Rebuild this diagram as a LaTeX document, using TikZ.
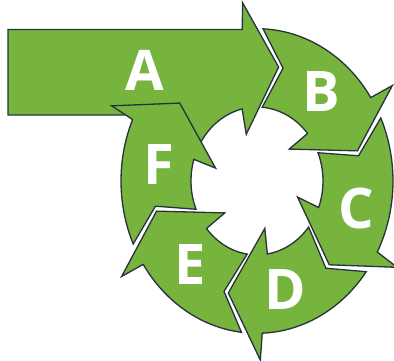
\documentclass[tikz,border=0pt]{standalone}
\usepackage{fontspec}
\setmainfont{Open Sans}
\definecolor{arrgreen}{RGB}{118,180,62}
\definecolor{arredge}{RGB}{38,50,60}
\newcommand{\gapang}{2.5}
% #1 = tip angle of previous arrow, #2 = tip angle of this arrow
\newcommand{\ringarrow}[2]{%
  \path[arrowshape] ({#1+11.95-\gapang}:136)
    arc[start angle={#1+11.95-\gapang}, end angle={#2+18.2}, radius=136]
    -- ({#2+17.2}:160) -- ({#2}:104) -- ({#2+26.5}:43) -- ({#2+25}:66)
    arc[start angle={#2+25}, end angle={#1+9.97-\gapang}, radius=66]
    -- ({#1-\gapang}:104) -- cycle;}
\begin{document}
\begin{tikzpicture}[x=1pt,y=1pt,
  arrowshape/.style={fill=arrgreen, draw=arredge, line width=1.3pt, line join=miter},
  lbl/.style={text=white, font=\fontsize{56}{60}\selectfont\bfseries, inner sep=0pt}]
\useasboundingbox (0,0) rectangle (394,361);
\begin{scope}[shift={(257,180)}, yscale=1.12]
  % A : straight entry arrow
  \path[arrowshape] (-249,58.93) -- (-249,{136*sin(96.2)}) -- (96.2:136)
    -- (95.2:160) -- (78:104) -- (104.5:43) -- (103:66)
    arc[start angle=103, end angle=155, radius=66]
    -- (-82,49.1) -- (-107,58.93) -- cycle;
  \ringarrow{78}{15}     % B
  \ringarrow{15}{-46}    % C
  \ringarrow{-46}{-106}  % D
  \ringarrow{-106}{-165} % E
  \ringarrow{-165}{-222} % F
\end{scope}
\node[lbl] (la) at (145,291) {A};
\node[lbl] (lb) at (321,269) {B};
\node[lbl] (lc) at (356,152) {C};
\node[lbl] (ld) at (285,71) {D};
\node[lbl] (le) at (190,96) {E};
\node[lbl] (lf) at (159,196) {F};
\end{tikzpicture}
\end{document}
